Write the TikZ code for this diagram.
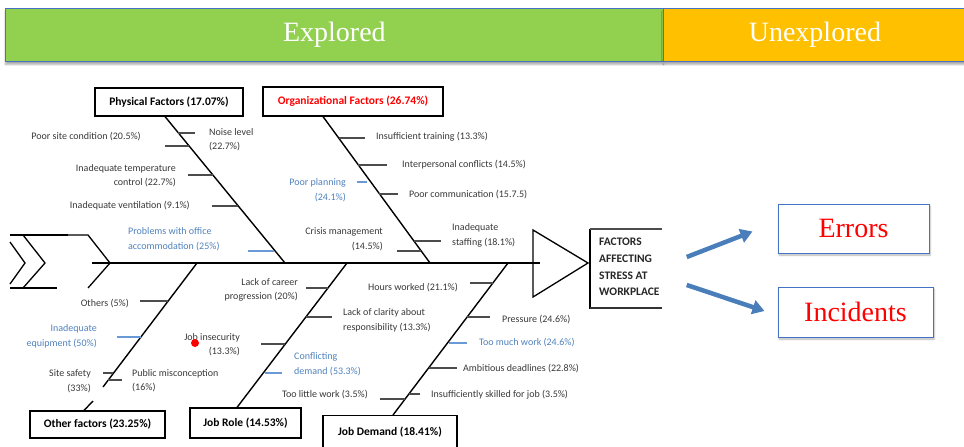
\documentclass[tikz,border=0pt]{standalone}
\usepackage{fontspec}
\setmainfont{Carlito}
\newfontfamily\serifface{Liberation Serif}
\usetikzlibrary{arrows.meta,shadows.blur,calc}

\definecolor{exgreen}{HTML}{92D050}
\definecolor{unorange}{HTML}{FFC000}
\definecolor{barblue}{HTML}{4472C4}
\definecolor{arrowblue}{HTML}{4A7EBB}
\definecolor{labelblue}{HTML}{4F81BD}
\definecolor{tickblue}{HTML}{6A9AD6}
\definecolor{labelgray}{HTML}{383838}

\begin{document}
\begin{tikzpicture}[x=1pt,y=-1pt,
  lbl/.style={font=\fontsize{10}{14.5}\selectfont, text=labelgray, inner sep=0pt},
  lblL/.style={lbl, anchor=east, align=right},
  lblR/.style={lbl, anchor=west, align=left},
  bluetext/.style={text=labelblue},
  catbox/.style={draw, line width=1.1pt, fill=white, font=\fontsize{11.5}{13}\selectfont\bfseries, inner sep=0pt},
  bone/.style={line width=1.4pt},
  spine/.style={line width=2.6pt},
  tick/.style={line width=1.4pt, draw=black!70},
  btick/.style={line width=1.4pt, draw=tickblue},
  band/.style={draw=barblue, line width=0.8pt, inner sep=0pt, anchor=north west,
    minimum height=53pt, text=white, font=\serifface\fontsize{28}{30}\selectfont,
    blur shadow={shadow xshift=0pt, shadow yshift=-3pt, shadow blur steps=6, shadow opacity=35}},
  outbox/.style={draw=barblue, line width=1pt, fill=white, inner sep=0pt,
    font=\serifface\fontsize{28}{30}\selectfont, text=red,
    blur shadow={shadow xshift=1pt, shadow yshift=-2pt, shadow blur steps=6, shadow opacity=30}},
  flow/.style={arrowblue, line width=4.5pt, -{Triangle[length=12pt,width=14pt]}}
]
\useasboundingbox (0,0) rectangle (964,447);

% ---- top band ----
\node[band, fill=exgreen, minimum width=658pt] (explored) at (5,8) {Explored};
\node[band, fill=unorange, minimum width=303pt] (unexplored) at (663,8) {Unexplored};

% ---- fish tail ----
\draw[line width=2.4pt] (10,235) -- (68,235);
\draw[line width=1.3pt] (68,235) -- (88,235) -- (110,263) -- (88,288);
\draw[line width=1.3pt] (92,263) -- (110,263);
\draw[line width=1.3pt] (10,242) -- (25,263) -- (10,284);
\draw[line width=1.3pt] (23,235) -- (45,263) -- (23,288);
\draw[line width=1.3pt] (10,288) -- (57,288);

% ---- spine and head ----
\coordinate (tailtip) at (110,263);
\coordinate (spineend) at (540,263);
\draw[spine] (tailtip) -- (spineend);
\draw[line width=1.3pt] (533,230) -- (588,263) -- (533,297) -- cycle;
\draw[line width=2pt] (590,229) -- (590,309);
\draw[line width=1.2pt, black!70] (590,229) -- (662,229);
\draw[line width=2pt, black!80] (590,308) -- (662,308);
\node[font=\fontsize{11.5}{16.7}\selectfont\bfseries, text=black!85, anchor=west, align=left, inner sep=0pt]
  (head) at (599,267) {FACTORS\\AFFECTING\\STRESS AT\\WORKPLACE};

% ---- consequences ----
\node[outbox, minimum width=151pt, minimum height=49pt] (err) at (853.5,228.5) {Errors};
\node[outbox, minimum width=155pt, minimum height=50pt] (inc) at (855.5,312) {Incidents};
\draw[flow] ([shift={(27,-10)}]head.east) -- ([shift={(-25,3)}]err.west);
\draw[flow] ([shift={(27,18)}]head.east) -- ([shift={(-13,-1)}]inc.west);

% ---- category boxes ----
\node[catbox, minimum width=148pt, minimum height=28pt] (phys) at (169,102) {Physical Factors (17.07\%)};
\node[catbox, minimum width=180pt, minimum height=29pt, text=red] (org) at (353,101.5) {Organizational Factors (26.74\%)};
\node[catbox, minimum width=135pt, minimum height=27pt] (other) at (97.5,424.5) {Other factors (23.25\%)};
\node[catbox, minimum width=111pt, minimum height=30pt] (role) at (245.5,423) {Job Role (14.53\%)};
\node[catbox, minimum width=134pt, minimum height=34pt, anchor=north] (demand) at (390,415) {Job Demand (18.41\%)};

% ---- bones ----
\coordinate (sPhys) at (285,263);
\coordinate (sOrg) at (430,263);
\coordinate (sOther) at (197,263);
\coordinate (sRole) at (347,263);
\coordinate (sDemand) at (508,263);
\coordinate (oGapA) at (103,387);
\coordinate (oGapB) at (93,401);
\draw[bone] ([xshift=-4pt]phys.south) -- (sPhys);
\draw[bone] ([xshift=-30pt]org.south) -- (sOrg);
\draw[bone] (sOther) -- (oGapA);
\draw[bone] (oGapB) -- ([xshift=-13.5pt]other.north);
\draw[bone] (sRole) -- ([xshift=-8.5pt]role.north);
\draw[bone] (sDemand) -- ([xshift=3pt]demand.north);

% ---- physical factors ----
\draw[tick] (178,133) -- (195,133);
\draw[tick] (165,146) -- (189,146);
\draw[tick] (188,175) -- (213,175);
\draw[tick] (212,206) -- (238,206);
\draw[btick] (248,251) -- (274,251);
\node[lblR] (noise) at (209,139.5) {Noise level\\(22.7\%)};
\node[lblL] (site) at (141,137) {Poor site condition (20.5\%)};
\node[lblL] (temp) at (176,175.5) {Inadequate temperature\\control (22.7\%)};
\node[lblL] (vent) at (190,206) {Inadequate ventilation (9.1\%)};
\node[lblR, bluetext] (office) at (128,239) {Problems with office\\accommodation (25\%)};

% ---- organizational factors ----
\draw[tick] (339,138) -- (365,138);
\draw[tick] (358,165) -- (387,165);
\draw[btick] (357,182) -- (367,182);
\draw[tick] (379,194) -- (398,194);
\draw[tick] (397,251) -- (421,251);
\draw[tick] (414,241) -- (441,241);
\node[lblR] (train) at (376,137) {Insufficient training (13.3\%)};
\node[lblR] (conf) at (402,165) {Interpersonal conflicts (14.5\%)};
\node[lblL, bluetext] (plan) at (346,190) {Poor planning\\(24.1\%)};
\node[lblR] (comm) at (409,195) {Poor communication (15.7.5)};
\node[lblL] (crisis) at (383,239.5) {Crisis management\\(14.5\%)};
\node[lblR] (staff) at (452,235.5) {Inadequate\\staffing (18.1\%)};

% ---- other factors ----
\draw[tick] (140,301) -- (168,301);
\draw[btick] (117,337) -- (141,337);
\draw[tick] (103,373) -- (113,373);
\draw[tick] (108,380) -- (122,380);
\node[lblL] (others) at (129,304) {Others (5\%)};
\node[lblL, bluetext] (equip) at (97,336.5) {Inadequate\\equipment (50\%)};
\node[lblL] (safety) at (91,381) {Site safety\\(33\%)};
\node[lblR] (public) at (132,380.5) {Public misconception\\(16\%)};

% ---- job role ----
\draw[tick] (306,288) -- (328,288);
\draw[tick] (306,317) -- (332,317);
\draw[tick] (261,344) -- (285,344);
\draw[btick] (265,373) -- (282,373);
\node[lblL] (career) at (298,290) {Lack of career\\progression (20\%)};
\node[lblR] (clarity) at (343,320.5) {Lack of clarity about\\responsibility (13.3\%)};
\node[lblL] (insec) at (240,344.5) {Job insecurity\\(13.3\%)};
\node[lblR, bluetext] (conflict) at (294,364) {Conflicting\\demand (53.3\%)};
\fill[red] (195,343) circle[radius=4pt];

% ---- job demand ----
\draw[tick] (470,283) -- (493,283);
\draw[tick] (467,317) -- (490,317);
\draw[btick] (449,343) -- (467,343);
\draw[tick] (429,368) -- (457,368);
\draw[tick] (409,394) -- (420,394);
\draw[tick] (380,399) -- (405,399);
\node[lblL] (hours) at (458,288) {Hours worked (21.1\%)};
\node[lblR] (press) at (502,320) {Pressure (24.6\%)};
\node[lblR, bluetext] (much) at (479,343) {Too much work (24.6\%)};
\node[lblR] (ambit) at (463,369) {Ambitious deadlines (22.8\%)};
\node[lblR] (skill) at (431,395) {Insufficiently skilled for job (3.5\%)};
\node[lblL] (little) at (368,395) {Too little work (3.5\%)};
\end{tikzpicture}
\end{document}
